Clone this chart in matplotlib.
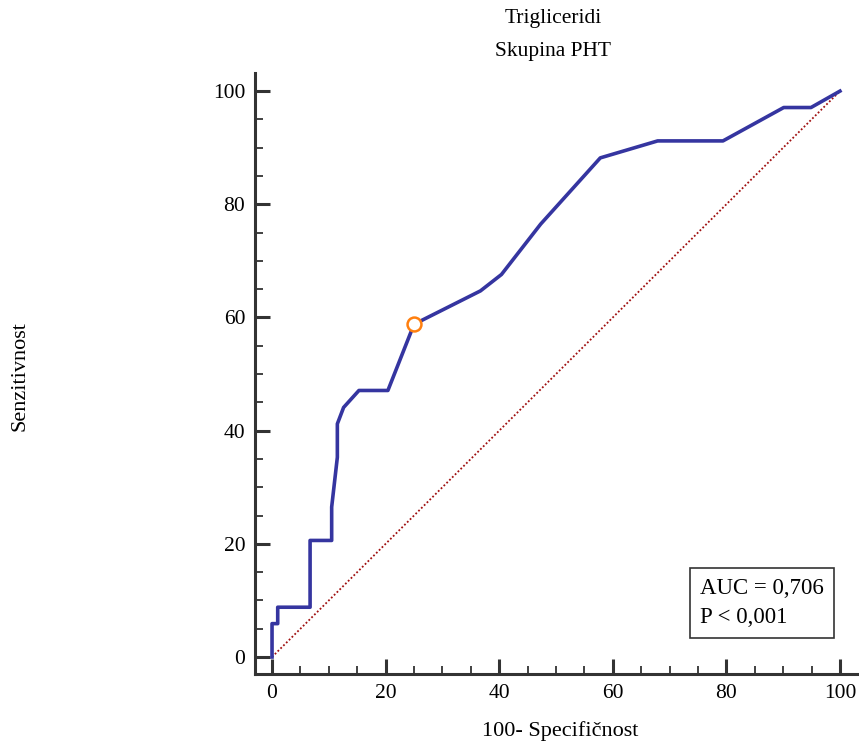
import matplotlib

matplotlib.use("Agg")
import matplotlib.pyplot as plt
from matplotlib.ticker import MultipleLocator

# ROC curve points (100 - specificity, sensitivity)
fpr = [0, 0, 1.0, 1.0, 6.7, 6.7, 10.5, 10.5, 11.5, 11.5, 12.6, 15.3, 20.4,
       25.0, 36.7, 40.4, 47.3, 57.8, 67.9, 79.4, 90.1, 94.9, 100]
tpr = [0, 5.9, 5.9, 8.8, 8.8, 20.6, 20.6, 26.5, 35.3, 41.2, 44.1, 47.1, 47.1,
       58.8, 64.7, 67.6, 76.5, 88.2, 91.2, 91.2, 97.1, 97.1, 100]
cut_x = [25.0]
cut_y = [58.8]
diag = [0, 100]

title = "Trigliceridi\nSkupina PHT"
xlabel = "100- Specifičnost"
ylabel = "Senzitivnost"
stats_text = "AUC = 0,706\nP < 0,001"

plt.rcParams["font.family"] = ["Liberation Serif", "DejaVu Serif"]

fig = plt.figure(figsize=(8.59, 7.46), dpi=100)
W, H = 859, 746
ax = fig.add_axes([255 / W, 1 - 674 / H, (857 - 255) / W, (674 - 73) / H])

ax.plot(diag, diag, color="#a01010", linestyle=(0, (1, 1.2)), linewidth=1.3)
ax.plot(fpr, tpr, color="#3535a0", linewidth=2.6, solid_joinstyle="round")
ax.plot(cut_x, cut_y, marker="o", markersize=10, markerfacecolor="white",
        markeredgecolor="#ff7f0e", markeredgewidth=1.8, linestyle="none")

ax.set_xlim(-3, 103)
ax.set_ylim(-3, 103.2)
ax.xaxis.set_minor_locator(MultipleLocator(5))
ax.yaxis.set_minor_locator(MultipleLocator(5))
ax.set_xticks([0, 20, 40, 60, 80, 100])
ax.set_yticks([0, 20, 40, 60, 80, 100])

for side in ["top", "right"]:
    ax.spines[side].set_visible(False)
for side in ["left", "bottom"]:
    ax.spines[side].set_linewidth(2.2)
    ax.spines[side].set_color("#333333")

ax.tick_params(which="major", direction="in", length=11, width=2.2,
               color="#333333", labelsize=15.5, pad=7)
ax.tick_params(which="minor", direction="in", length=6, width=1.3,
               color="#333333")

# axis labels are letter-spaced in the original, so a bit larger here
fig.text(560 / W, 1 - 731 / H, xlabel, fontsize=16, ha="center", va="center")
fig.text(20 / W, 1 - 376 / H, ylabel, rotation=90, fontsize=16,
         ha="center", va="center")
fig.text(553 / W, 1 - 35 / H, title, fontsize=15.5, ha="center", va="center",
         linespacing=1.95)

ax.text(0.739, 0.118, stats_text, transform=ax.transAxes, fontsize=16.5,
        va="center", ha="left", linespacing=1.5,
        bbox=dict(boxstyle="square,pad=0.45", facecolor="white",
                  edgecolor="#333333", linewidth=1.2))

fig.savefig("out.png", dpi=100)
